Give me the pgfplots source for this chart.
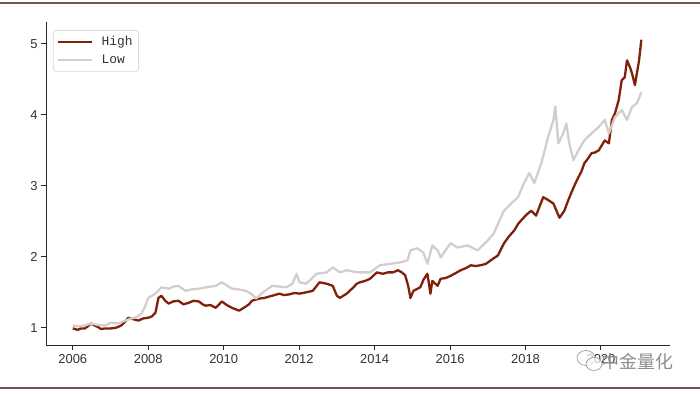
\documentclass[border=0pt]{standalone}
\usepackage{fontspec}
\setmainfont{Liberation Sans}
\newfontfamily\legfont{Liberation Mono}
\newfontfamily\cjk{Noto Sans CJK SC}
\usepackage{pgfplots}
\pgfplotsset{compat=1.18}
\definecolor{highc}{RGB}{128,32,8}
\definecolor{lowc}{RGB}{212,206,202}
\definecolor{rulec}{RGB}{125,80,80}

\pgfplotstableread{
x y
2006.00 0.99
2006.13 0.97
2006.22 0.99
2006.32 0.99
2006.40 1.02
2006.48 1.06
2006.58 1.03
2006.67 1.01
2006.75 0.98
2006.85 0.99
2007.01 0.99
2007.15 1.00
2007.28 1.03
2007.38 1.08
2007.47 1.14
2007.60 1.12
2007.74 1.10
2007.86 1.13
2008.00 1.14
2008.10 1.16
2008.19 1.21
2008.27 1.42
2008.35 1.45
2008.45 1.38
2008.54 1.34
2008.66 1.37
2008.80 1.38
2008.93 1.33
2009.07 1.35
2009.20 1.38
2009.34 1.37
2009.44 1.33
2009.52 1.31
2009.65 1.32
2009.79 1.28
2009.95 1.37
2010.08 1.32
2010.22 1.28
2010.41 1.24
2010.50 1.27
2010.59 1.30
2010.67 1.33
2010.75 1.38
2010.94 1.41
2011.08 1.42
2011.21 1.44
2011.35 1.46
2011.47 1.48
2011.60 1.46
2011.74 1.47
2011.88 1.49
2012.01 1.48
2012.20 1.50
2012.36 1.52
2012.45 1.58
2012.54 1.64
2012.73 1.62
2012.89 1.59
2013.00 1.45
2013.08 1.42
2013.26 1.48
2013.40 1.55
2013.53 1.62
2013.61 1.64
2013.75 1.66
2013.88 1.69
2014.06 1.78
2014.22 1.76
2014.35 1.78
2014.49 1.78
2014.62 1.81
2014.72 1.78
2014.81 1.74
2014.89 1.59
2014.95 1.42
2015.03 1.52
2015.21 1.57
2015.30 1.68
2015.40 1.76
2015.48 1.48
2015.53 1.66
2015.67 1.59
2015.75 1.69
2015.88 1.70
2016.01 1.73
2016.15 1.77
2016.28 1.81
2016.42 1.84
2016.55 1.88
2016.68 1.87
2016.81 1.88
2016.95 1.90
2017.08 1.95
2017.27 2.02
2017.43 2.19
2017.55 2.28
2017.70 2.37
2017.80 2.46
2017.88 2.51
2018.02 2.59
2018.15 2.65
2018.28 2.58
2018.38 2.72
2018.47 2.84
2018.60 2.80
2018.74 2.75
2018.82 2.65
2018.90 2.55
2019.03 2.65
2019.12 2.78
2019.22 2.91
2019.31 3.02
2019.40 3.12
2019.48 3.20
2019.56 3.32
2019.65 3.38
2019.75 3.46
2019.84 3.47
2019.94 3.50
2020.02 3.57
2020.10 3.64
2020.21 3.60
2020.29 3.93
2020.37 4.02
2020.47 4.21
2020.55 4.49
2020.63 4.53
2020.69 4.77
2020.77 4.67
2020.82 4.59
2020.90 4.42
2021.01 4.77
2021.07 5.06
}\high

\pgfplotstableread{
x y
2006.00 1.03
2006.15 1.02
2006.32 1.03
2006.48 1.06
2006.66 1.04
2006.85 1.03
2007.01 1.07
2007.20 1.06
2007.39 1.10
2007.55 1.13
2007.70 1.15
2007.82 1.20
2007.92 1.30
2008.00 1.42
2008.19 1.48
2008.35 1.57
2008.54 1.55
2008.67 1.58
2008.80 1.59
2008.99 1.52
2009.15 1.54
2009.34 1.55
2009.55 1.57
2009.79 1.59
2009.95 1.64
2010.22 1.55
2010.40 1.54
2010.59 1.52
2010.75 1.47
2010.86 1.41
2011.02 1.49
2011.29 1.59
2011.47 1.58
2011.66 1.57
2011.82 1.62
2011.93 1.76
2012.01 1.64
2012.19 1.62
2012.46 1.76
2012.73 1.78
2012.89 1.85
2013.08 1.78
2013.26 1.81
2013.45 1.79
2013.61 1.78
2013.88 1.78
2014.14 1.88
2014.41 1.90
2014.68 1.92
2014.87 1.95
2014.95 2.09
2015.13 2.12
2015.29 2.06
2015.40 1.90
2015.53 2.16
2015.67 2.09
2015.75 1.99
2016.01 2.19
2016.20 2.13
2016.47 2.16
2016.73 2.09
2017.00 2.23
2017.16 2.33
2017.30 2.50
2017.43 2.65
2017.62 2.75
2017.80 2.84
2017.96 3.04
2018.10 3.18
2018.23 3.04
2018.42 3.32
2018.60 3.69
2018.74 3.93
2018.79 4.12
2018.87 3.60
2019.00 3.74
2019.08 3.88
2019.16 3.60
2019.27 3.36
2019.40 3.50
2019.56 3.64
2019.75 3.74
2019.94 3.83
2020.10 3.93
2020.21 3.74
2020.37 3.97
2020.55 4.07
2020.69 3.93
2020.82 4.11
2020.96 4.17
2021.07 4.32
}\low

\begin{document}
\begin{tikzpicture}[x=1bp,y=1bp]
\useasboundingbox (0,0) rectangle (700,393);
\draw[rulec, line width=1.2bp] (0,390) -- (700,390);
\draw[rulec, line width=1.2bp] (0,5) -- (700,5);
\begin{axis}[
  at={(46bp,48bp)}, anchor=south west,
  scale only axis, width=624bp, height=323bp,
  xmin=2005.29, xmax=2021.83, ymin=0.756, ymax=5.31,
  axis x line*=bottom, axis y line*=left,
  axis line style={line width=1bp, black!85, -},
  tick align=outside, major tick length=5bp,
  tick style={line width=1bp, black!85},
  xtick={2006,2008,2010,2012,2014,2016,2018,2020},
  xticklabels={2006,2008,2010,2012,2014,2016,2018,2020},
  ytick={1,2,3,4,5},
  /pgf/number format/assume math mode=true,
  ticklabel style={font=\fontsize{13}{15}\selectfont, text=black!80},
  xticklabel style={yshift=-1bp},
  legend cell align=left,
  legend style={at={(0.011,0.975)}, anchor=north west,
    draw=black!15, rounded corners=3bp, line width=0.8bp,
    font=\legfont\fontsize{13}{15}\selectfont, text=black!80,
    inner xsep=4bp, inner ysep=4bp, row sep=4bp,
    /tikz/every odd column/.append style={column sep=6bp}},
  legend image code/.code={\draw[#1] (0bp,0bp) -- (34bp,0bp);},
]
\addplot[highc, line width=2.3bp, line join=round] table {\high};
\addlegendentry{High}
\addplot[lowc, line width=2.3bp, line join=round] table {\low};
\addlegendentry{Low}
\end{axis}
\begin{scope}[black!35, line width=0.8bp]
\draw[fill=white, fill opacity=0.7] (586,35) ellipse (9bp and 7.5bp);
\draw[fill=white, fill opacity=0.7] (594,29) ellipse (8bp and 6.5bp);
\end{scope}
\node[anchor=west, inner sep=0, text=black!45, font=\cjk\fontsize{18}{18}\selectfont] at (601,31) {中金量化};
\end{tikzpicture}
\end{document}
